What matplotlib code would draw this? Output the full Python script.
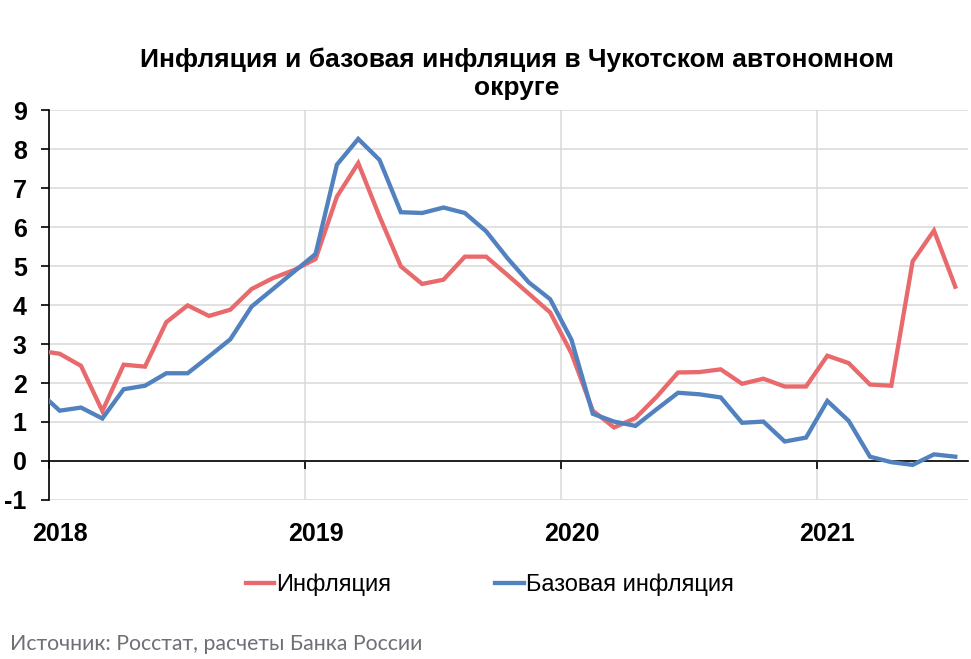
import matplotlib
matplotlib.use("Agg")
import matplotlib.pyplot as plt
import matplotlib.ticker as mtick
from matplotlib import rcParams

rcParams['font.family'] = ['Liberation Sans', 'DejaVu Sans']
rcParams['axes.linewidth'] = 1.2
rcParams['axes.unicode_minus'] = False

# monthly values, Dec 2017 .. Jul 2021 (Dec 2017 is clipped by the axis)
inflation = [2.83, 2.75, 2.44, 1.28, 2.47, 2.42, 3.56, 3.99, 3.72, 3.88, 4.41, 4.69, 4.90,
             5.18, 6.78, 7.64, 6.27, 4.99, 4.54, 4.65, 5.24, 5.24, 4.77, 4.29, 3.81,
             2.76, 1.29, 0.86, 1.10, 1.65, 2.27, 2.28, 2.35, 1.98, 2.11, 1.91, 1.91,
             2.70, 2.51, 1.96, 1.93, 5.12, 5.91, 4.47]
core_inflation = [1.79, 1.29, 1.37, 1.09, 1.84, 1.93, 2.25, 2.25, 2.68, 3.12, 3.96, 4.41, 4.86,
                  5.31, 7.60, 8.26, 7.72, 6.38, 6.36, 6.50, 6.36, 5.89, 5.20, 4.58, 4.15,
                  3.11, 1.21, 1.01, 0.90, 1.33, 1.75, 1.71, 1.63, 0.98, 1.01, 0.50, 0.60,
                  1.54, 1.03, 0.11, -0.03, -0.10, 0.17, 0.11]
years = ['2018', '2019', '2020', '2021']
series_names = ['Инфляция', 'Базовая инфляция']

# months since Jan 2018, points sit in the middle of each month
months = [i - 0.5 for i in range(len(inflation))]
year_starts = [12 * k for k in range(len(years))]
year_labels_pos = [12 * k + 0.5 for k in range(len(years))]

fig = plt.figure(figsize=(9.71, 6.59), dpi=100)
ax = fig.add_axes([0.0505, 0.2413, 0.9465, 0.5917])

ax.plot(months, inflation, color='#E96A6C', lw=3.1, label=series_names[0],
        solid_joinstyle='miter', zorder=3)
ax.plot(months, core_inflation, color='#5181BE', lw=3.1, label=series_names[1],
        solid_joinstyle='miter', zorder=3)

ax.set_xlim(0, 43.1)
ax.set_ylim(-1, 9)

# y axis
ax.yaxis.set_major_locator(mtick.MultipleLocator(1))
ax.tick_params(axis='y', direction='out', length=6, width=1.2, color='black',
               labelsize=18, pad=10)
for lab in ax.get_yticklabels():
    lab.set_fontweight('bold')
ax.grid(axis='y', color='#D9D9D9', lw=1.1, zorder=0)

# x axis sits on zero
ax.spines['bottom'].set_position(('data', 0))
ax.spines['bottom'].set_color('black')
ax.spines['top'].set_visible(False)
ax.spines['right'].set_visible(False)
ax.set_xticks(year_starts)
ax.set_xticklabels([])
ax.set_xticks(year_labels_pos, minor=True)
ax.set_xticklabels(years, minor=True, fontsize=18, fontweight='bold')
ax.tick_params(axis='x', which='major', direction='out', length=6, width=1.2, color='black')
ax.tick_params(axis='x', which='minor', length=0, pad=44)
ax.grid(axis='x', which='major', color='#D9D9D9', lw=1.1, zorder=0)
ax.set_axisbelow(True)

fig.text(0.532, 0.888, 'Инфляция и базовая инфляция в Чукотском автономном\nокруге',
         ha='center', va='center', fontsize=19, fontweight='bold', linespacing=1.25)

fig.legend(loc='center', bbox_to_anchor=(0.5046, 0.113), ncol=2, frameon=False,
           fontsize=17, handlelength=1.2, handletextpad=0.1, columnspacing=4.4)

fig.text(0.01, 0.008, 'Источник: Росстат, расчеты Банка России', fontsize=15.3,
         color='#6F6F78', family=['Lato', 'DejaVu Sans'], ha='left', va='bottom')

plt.savefig('out.png', dpi=100)
